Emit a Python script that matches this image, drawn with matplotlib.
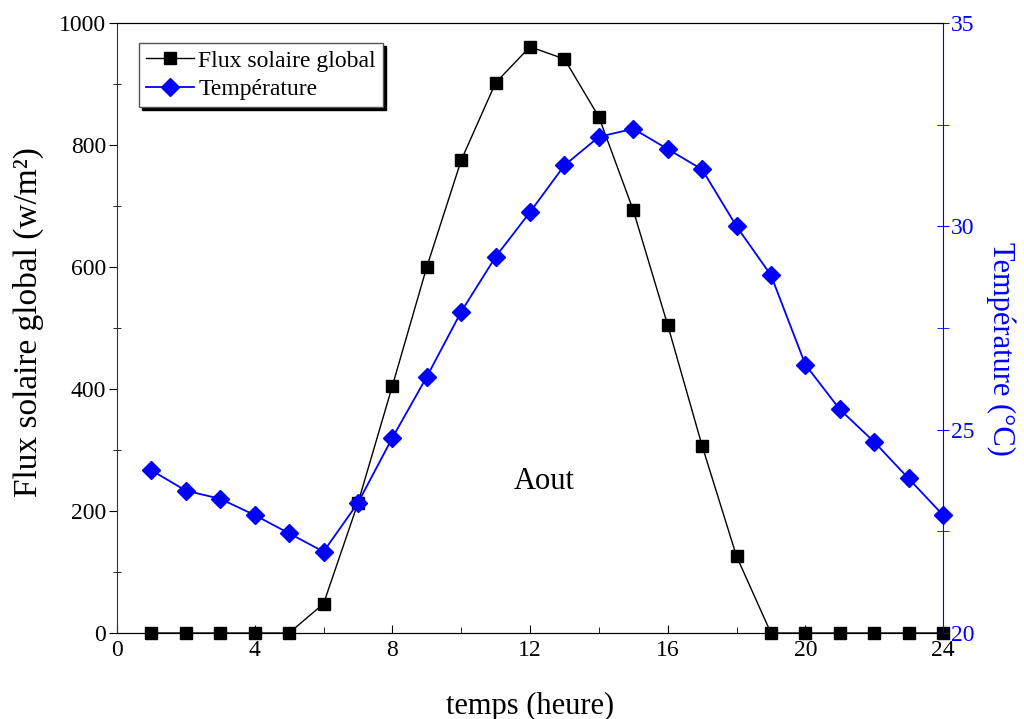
import matplotlib
matplotlib.use('Agg')
import matplotlib.pyplot as plt
from matplotlib.ticker import MultipleLocator

plt.rcParams['font.family'] = ['Liberation Serif', 'DejaVu Serif']

# Données (mois d'août)
heures = list(range(1, 25))
flux = [0, 0, 0, 0, 0, 48, 213, 405, 600, 775, 902, 961,
        941, 846, 693, 505, 307, 126, 0, 0, 0, 0, 0, 0]
temperature = [24.0, 23.5, 23.3, 22.9, 22.45, 22.0, 23.2, 24.8, 26.3, 27.9, 29.25, 30.35,
               31.5, 32.2, 32.4, 31.9, 31.4, 30.0, 28.8, 26.6, 25.5, 24.7, 23.8, 22.9]

fig = plt.figure(figsize=(10.24, 7.19), dpi=100)
ax = fig.add_axes([0.1143, 0.1196, 0.8066, 0.8484])
ax2 = ax.twinx()

l1, = ax.plot(heures, flux, color='black', lw=1, marker='s', markersize=9,
              label='Flux solaire global', clip_on=False, zorder=3)
l2, = ax2.plot(heures, temperature, color='blue', lw=1.3, marker='D', markersize=9,
               label='Température', clip_on=False, zorder=3)

ax.set_xlim(0, 24)
ax.set_ylim(0, 1000)
ax2.set_ylim(20, 35)

ax.xaxis.set_major_locator(MultipleLocator(4))
ax.xaxis.set_minor_locator(MultipleLocator(2))
ax.yaxis.set_major_locator(MultipleLocator(200))
ax.yaxis.set_minor_locator(MultipleLocator(100))
ax2.yaxis.set_major_locator(MultipleLocator(5))
ax2.yaxis.set_minor_locator(MultipleLocator(2.5))

ax.tick_params(axis='x', which='both', direction='in', labelsize=17, pad=5)
ax.tick_params(axis='x', which='major', length=6)
ax.tick_params(axis='x', which='minor', length=4)
ax.tick_params(axis='y', which='major', direction='out', length=6, labelsize=17, pad=2)
ax.tick_params(axis='y', which='minor', direction='inout', length=6)
ax2.tick_params(axis='y', which='both', direction='inout', length=8, colors='blue',
                labelsize=17, pad=2)

for s in ['left', 'bottom', 'top']:
    ax.spines[s].set_color('#333333')
ax2.spines['right'].set_color('blue')
ax2.spines['left'].set_visible(False)
ax.spines['right'].set_visible(False)

ax.set_xlabel('temps (heure)', fontsize=22, labelpad=22)
ax.set_ylabel('Flux solaire global (w/m²)', fontsize=24, labelpad=12)
ax.yaxis.set_label_coords(-0.088, 0.51)
ax2.set_ylabel('Température (°C)', fontsize=22, color='blue', rotation=270, labelpad=24)
ax2.yaxis.set_label_coords(1.088, 0.465)

ax.text(12.4, 249, 'Aout', fontsize=22, ha='center', va='center')

leg = ax2.legend(handles=[l1, l2], loc='upper left', bbox_to_anchor=(0.027, 0.967),
                 fontsize=17, frameon=True, shadow={'color': 'black', 'alpha': 1},
                 fancybox=False, edgecolor='#555555', handlelength=2.0,
                 handletextpad=0.2, borderpad=0.3, labelspacing=0.3, borderaxespad=0)

fig.savefig('out.png', dpi=100)
